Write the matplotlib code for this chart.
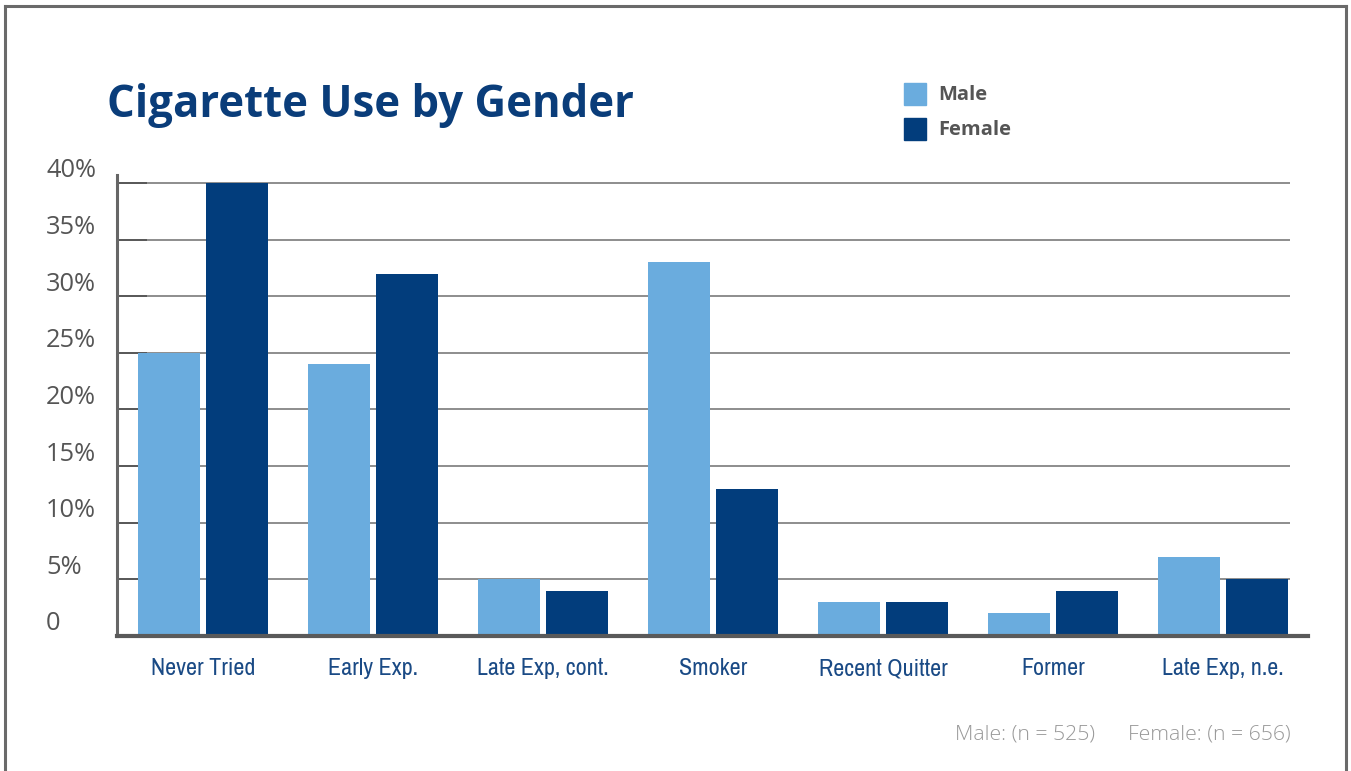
import matplotlib
matplotlib.use("Agg")
import matplotlib.pyplot as plt
import numpy as np
from matplotlib.transforms import ScaledTranslation
from matplotlib.lines import Line2D
from matplotlib.patches import Rectangle
from matplotlib import font_manager

categories = ["Never Tried", "Early Exp.", "Late Exp, cont.", "Smoker",
              "Recent Quitter", "Former", "Late Exp, n.e."]
male = [25, 24, 5, 33, 3, 2, 7]
female = [40, 32, 4, 13, 3, 4, 5]
yticks = [0, 5, 10, 15, 20, 25, 30, 35, 40]
ytick_labels = ["0", "5%", "10%", "15%", "20%", "25%", "30%", "35%", "40%"]
title = "Cigarette Use by Gender"
series_names = ["Male", "Female"]
footnote = "Male: (n = 525)      Female: (n = 656)"

MALE_C = "#6aacde"
FEMALE_C = "#023d7c"
TITLE_C = "#0a3d7a"
XLAB_C = "#1a4a85"
GRAY = "#555555"

# look for a condensed face for the category labels
names = sorted({f.name for f in font_manager.fontManager.ttflist})
cond = [n for n in names if ("Condensed" in n or "Narrow" in n)]
cond_stretch = [f.name for f in font_manager.fontManager.ttflist
                if str(f.stretch) in ("condensed", "semi-condensed", "extra-condensed")]
if cond:
    XFONT = dict(family=cond[0], fontsize=17.3)
elif cond_stretch:
    XFONT = dict(family=cond_stretch[0], fontsize=17.3, fontstretch="condensed")
else:
    XFONT = dict(family="Roboto", fontsize=15)

W, H = 1351, 771
fig = plt.figure(figsize=(W / 100, H / 100), dpi=100)
fig.patch.set_facecolor("white")

def fx(px):
    return px / W

def fy(py):
    return 1 - py / H

ax = fig.add_axes([fx(117), fy(636), fx(1308) - fx(117), fy(175) - fy(636)])
x = np.arange(len(categories))
bw = 0.365
off = 0.2
ax.bar(x - off, male, width=bw, color=MALE_C, zorder=3)
ax.bar(x + off, female, width=bw, color=FEMALE_C, zorder=3)

ax.set_xlim(-0.506, 6.5)
ax.set_ylim(0, 40.7)

for yv in yticks[1:]:
    ax.plot([-0.506, 6.394], [yv, yv], color="#7a7a7a", lw=1.2, zorder=1,
            solid_capstyle="butt")

for s in ["top", "right"]:
    ax.spines[s].set_visible(False)
ax.spines["left"].set_color("#666666")
ax.spines["left"].set_linewidth(2.2)
ax.spines["bottom"].set_color("#5a5a5a")
ax.spines["bottom"].set_linewidth(3)
ax.spines["bottom"].set_zorder(4)

ax.set_yticks(yticks)
ax.set_yticklabels(ytick_labels, fontsize=18.3, color=GRAY, family="Open Sans",
                   ha="left")
ax.tick_params(axis="y", direction="in", length=21.6, width=1.3,
               color="#555555", pad=51)
for lab in ax.get_yticklabels():
    lab.set_transform(lab.get_transform() +
                      ScaledTranslation(0, 15 / 100, fig.dpi_scale_trans))

ax.set_xticks(x)
ax.set_xticklabels(categories, color=XLAB_C, **XFONT)
ax.tick_params(axis="x", length=0, pad=16)

fig.text(fx(107), fy(117), title, fontsize=31.5, fontweight="bold",
         color=TITLE_C, family="Open Sans", ha="left", va="baseline")

for i, (name, col) in enumerate(zip(series_names, [MALE_C, FEMALE_C])):
    ycen = 94 + i * 35
    fig.patches.append(Rectangle((fx(904), fy(ycen + 11)), fx(22), fy(0) - fy(22),
                                 transform=fig.transFigure, color=col,
                                 figure=fig))
    fig.text(fx(938), fy(ycen + 6), name, fontsize=14.5, fontweight="bold",
             color=GRAY, family="Open Sans", ha="left", va="baseline")

fig.text(fx(1291), fy(740), footnote, fontsize=15.3, color="#999999",
         family="Open Sans", fontweight="light", ha="right", va="baseline")

bc = "#6a6a6a"
fig.add_artist(Line2D([fx(5), fx(5)], [0, fy(6)], color=bc, lw=2.2,
                      transform=fig.transFigure))
fig.add_artist(Line2D([fx(5), fx(1346)], [fy(6), fy(6)], color=bc, lw=2.2,
                      transform=fig.transFigure))
fig.add_artist(Line2D([fx(1346), fx(1346)], [fy(6), 0], color=bc, lw=2.2,
                      transform=fig.transFigure))

fig.savefig("out.png", dpi=100, facecolor="white")
